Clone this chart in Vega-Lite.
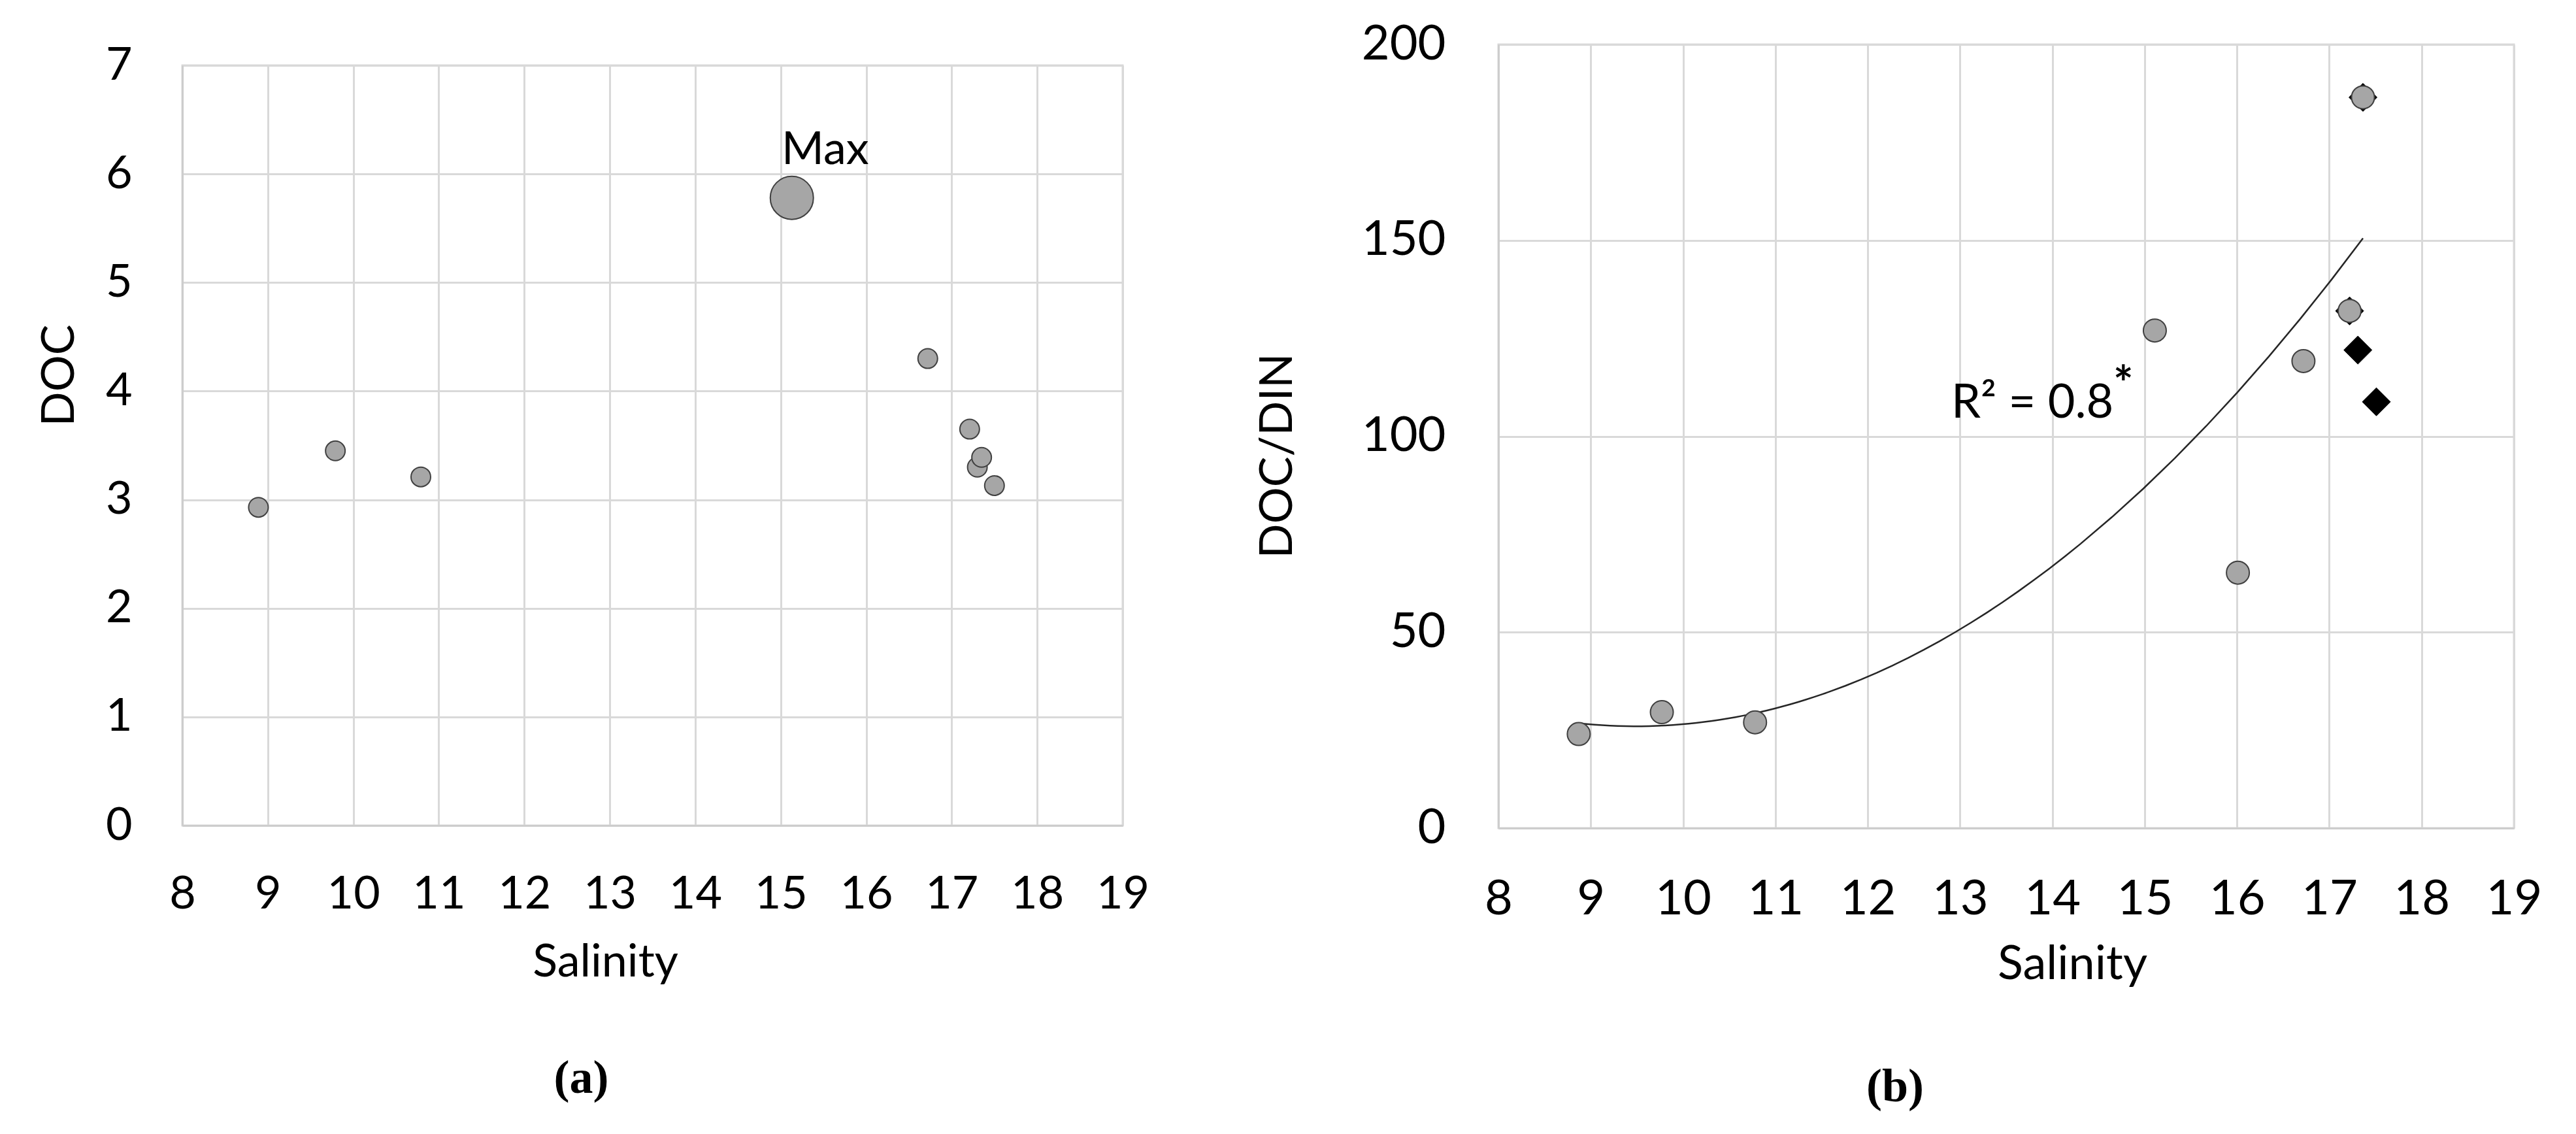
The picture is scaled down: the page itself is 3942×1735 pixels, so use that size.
{
  "$schema": "https://vega.github.io/schema/vega-lite/v6.json",
  "background": "white",
  "padding": {"left": 54, "top": 29, "right": 0, "bottom": 0},
  "spacing": 157,
  "datasets": {
    "a": [
      {"salinity": 8.89, "doc": 2.93},
      {"salinity": 9.79, "doc": 3.45},
      {"salinity": 10.79, "doc": 3.21},
      {"salinity": 15.13, "doc": 5.78, "label": "Max"},
      {"salinity": 16.72, "doc": 4.30},
      {"salinity": 17.21, "doc": 3.65},
      {"salinity": 17.30, "doc": 3.30},
      {"salinity": 17.35, "doc": 3.39},
      {"salinity": 17.50, "doc": 3.13}
    ],
    "b_circles": [
      {"salinity": 8.87, "docdin": 24.0},
      {"salinity": 9.77, "docdin": 29.6},
      {"salinity": 10.78, "docdin": 27.0},
      {"salinity": 15.11, "docdin": 127.0},
      {"salinity": 16.01, "docdin": 65.2},
      {"salinity": 16.72, "docdin": 119.2},
      {"salinity": 17.22, "docdin": 132.0},
      {"salinity": 17.365, "docdin": 186.5}
    ],
    "b_diamonds": [
      {"salinity": 17.22, "docdin": 132.0},
      {"salinity": 17.365, "docdin": 186.5},
      {"salinity": 17.31, "docdin": 122.0},
      {"salinity": 17.51, "docdin": 108.8}
    ],
    "empty": []
  },
  "hconcat": [
    {
      "vconcat": [
        {
          "width": 1439,
          "height": 1,
          "data": {"name": "empty"},
          "mark": {"type": "point"},
          "view": {"stroke": null}
        },
        {
          "width": 1439,
          "height": 1163,
          "title": {"text": "(a)", "orient": "bottom", "anchor": "middle", "frame": "group", "dx": -109, "offset": 108, "font": "Liberation Serif", "fontSize": 72, "fontWeight": "bold", "color": "#000000"},
          "layer": [
            {
              "data": {"name": "a"},
              "mark": {"type": "point", "shape": "circle", "filled": true, "fill": "#A6A6A6", "stroke": "#404040", "strokeWidth": 2, "opacity": 1},
              "encoding": {
                "x": {"field": "salinity", "type": "quantitative",
                      "scale": {"domain": [8, 19], "nice": false, "zero": false},
                      "axis": {"orient": "bottom", "values": [8,9,10,11,12,13,14,15,16,17,18,19], "format": "d", "labelFontSize": 70, "labelPadding": 71,
                               "title": "Salinity", "titleX": 647, "titleY": 230, "titleAlign": "center", "titleBaseline": "alphabetic", "titleAngle": 0}},
                "y": {"field": "doc", "type": "quantitative",
                      "scale": {"domain": [0, 7], "nice": false, "zero": true},
                      "axis": {"orient": "left", "values": [0,1,2,3,4,5,6,7], "format": "d", "labelFontSize": 70, "labelPadding": 77,
                               "title": "DOC", "titleX": -188, "titleY": 474, "titleAlign": "center", "titleBaseline": "middle", "titleAngle": 270}},
                "size": {"condition": {"test": "datum.label === 'Max'", "value": 4356}, "value": 900}
              }
            },
            {
              "data": {"name": "a"},
              "transform": [{"filter": "datum.label != null"}],
              "mark": {"type": "text", "align": "center", "baseline": "alphabetic", "dx": 51, "dy": -52, "fontSize": 70, "font": "Lato", "color": "#000000"},
              "encoding": {
                "x": {"field": "salinity", "type": "quantitative"},
                "y": {"field": "doc", "type": "quantitative"},
                "text": {"field": "label"}
              }
            }
          ]
        }
      ],
      "spacing": 31,
      "bounds": "flush"
    },
    {
      "width": 1554,
      "height": 1199,
      "title": {"text": "(b)", "orient": "bottom", "anchor": "middle", "frame": "group", "dx": -170, "offset": 117, "font": "Liberation Serif", "fontSize": 72, "fontWeight": "bold", "color": "#000000"},
      "layer": [
        {
          "data": {"name": "b_circles"},
          "transform": [{"regression": "docdin", "on": "salinity", "method": "poly", "order": 2}],
          "mark": {"type": "line", "color": "#262626", "strokeWidth": 2.5},
          "encoding": {
            "x": {"field": "salinity", "type": "quantitative",
                  "scale": {"domain": [8, 19], "nice": false, "zero": false},
                  "axis": {"orient": "bottom", "values": [8,9,10,11,12,13,14,15,16,17,18,19], "format": "d", "labelFontSize": 74, "labelPadding": 73,
                           "title": "Salinity", "titleX": 878, "titleY": 230, "titleAlign": "center", "titleBaseline": "alphabetic", "titleAngle": 0, "titleFontSize": 72}},
            "y": {"field": "docdin", "type": "quantitative",
                  "scale": {"domain": [0, 200], "nice": false, "zero": true},
                  "axis": {"orient": "left", "values": [0,50,100,150,200], "format": "d", "labelFontSize": 74, "labelPadding": 81,
                           "title": "DOC/DIN", "titleX": -338, "titleY": 629, "titleAlign": "center", "titleBaseline": "middle", "titleAngle": 270}}
          }
        },
        {
          "data": {"name": "b_diamonds"},
          "mark": {"type": "point", "shape": "diamond", "filled": true, "fill": "#000000", "stroke": "#000000", "strokeWidth": 1, "size": 1850, "opacity": 1},
          "encoding": {
            "x": {"field": "salinity", "type": "quantitative"},
            "y": {"field": "docdin", "type": "quantitative"}
          }
        },
        {
          "data": {"name": "b_circles"},
          "mark": {"type": "point", "shape": "circle", "filled": true, "fill": "#A6A6A6", "stroke": "#404040", "strokeWidth": 2, "size": 1225, "opacity": 1},
          "encoding": {
            "x": {"field": "salinity", "type": "quantitative"},
            "y": {"field": "docdin", "type": "quantitative"}
          }
        },
        {
          "data": {"values": [{}]},
          "mark": {"type": "text", "align": "left", "baseline": "alphabetic", "fontSize": 72, "font": "Lato", "color": "#000000"},
          "encoding": {
            "x": {"datum": 12.905},
            "y": {"datum": 104.8},
            "text": {"value": "R² = 0.8"}
          }
        },
        {
          "data": {"values": [{}]},
          "mark": {"type": "text", "align": "center", "baseline": "alphabetic", "fontSize": 72, "font": "Lato", "fontWeight": "bold", "color": "#000000"},
          "encoding": {
            "x": {"datum": 14.77},
            "y": {"datum": 109.1},
            "text": {"value": "*"}
          }
        }
      ]
    }
  ],
  "config": {
    "font": "Lato",
    "view": {"stroke": "#D9D9D9", "strokeWidth": 3},
    "axis": {
      "grid": true, "gridColor": "#D9D9D9", "gridWidth": 3,
      "ticks": false, "domain": true, "domainColor": "#CDCDCD", "domainWidth": 3,
      "labelOverlap": false, "labelFlush": false,
      "labelFont": "Lato", "labelColor": "#000000",
      "titleFont": "Lato", "titleFontSize": 70, "titleFontWeight": "normal", "titleColor": "#000000"
    }
  }
}
